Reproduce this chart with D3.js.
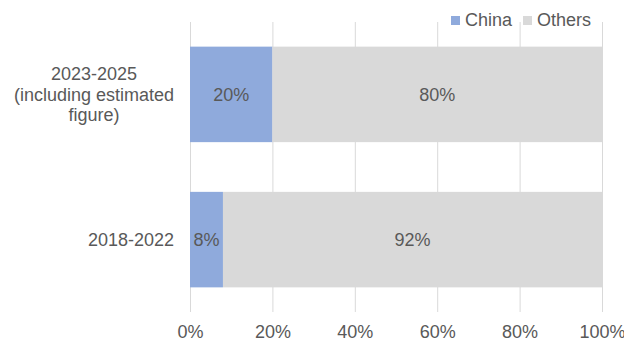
<!DOCTYPE html>
<html><head><meta charset="utf-8">
<script src="https://cdn.jsdelivr.net/npm/d3@7"></script>
<style>body{margin:0;background:#fff}svg{display:block;font-family:"Liberation Sans",Arial,sans-serif}</style>
</head><body><svg id="c" width="624" height="341"></svg>
<script>
const categories = [["2023-2025","(including estimated","figure)"],["2018-2022"]];
const seriesNames = ["China","Others"];
const china = [20, 8];
const others = [80, 92];
const xTicks = [0,20,40,60,80,100];
const colors = ["#8faadc","#d9d9d9"];

const svg = d3.select("#c");
const x = d3.scaleLinear().domain([0,100]).range([190,602]);
const y = d3.scaleBand().domain(d3.range(categories.length)).range([22,312]).paddingInner(0.343).paddingOuter(0.17);
const txt = "#595959";
const fs = 18;

// gridlines
svg.append("g").selectAll("line").data(xTicks).join("line")
  .attr("x1",d=>x(d)+0.5).attr("x2",d=>x(d)+0.5).attr("y1",22).attr("y2",312)
  .attr("stroke","#d9d9d9").attr("stroke-width",1);

// x axis labels
const xa = svg.append("g").attr("transform","translate(0,312)")
  .call(d3.axisBottom(x).tickValues(xTicks).tickFormat(d=>d+"%").tickSize(0).tickPadding(13));
xa.select(".domain").remove();
xa.selectAll("text").attr("font-size",fs).attr("fill",txt).attr("font-family","Liberation Sans, Arial, sans-serif");

const data = categories.map((c,i)=>({i, vals:[china[i], others[i]]}));
const bh = 95.5;
data.forEach(d=>{
  let acc = 0;
  const cy = y(d.i)+y.bandwidth()/2;
  d.vals.forEach((v,k)=>{
    svg.append("rect").attr("x",x(acc)).attr("width",x(acc+v)-x(acc))
      .attr("y",cy-bh/2).attr("height",bh).attr("fill",colors[k]);
    svg.append("text").attr("x",(x(acc)+x(acc+v))/2).attr("y",cy).attr("dy","0.35em")
      .attr("text-anchor","middle").attr("font-size",fs).attr("fill",txt).text(v+"%");
    acc += v;
  });
});

// category labels
categories.forEach((lines,i)=>{
  const cy = y(i)+y.bandwidth()/2;
  const lh = 20.5;
  const g = svg.append("g");
  const t = g.append("text").attr("font-size",fs).attr("fill",txt).attr("text-anchor","middle");
  lines.forEach((l,j)=>{
    t.append("tspan").attr("x",0).attr("y",cy+(j-(lines.length-1)/2)*lh).attr("dy","0.35em").text(l);
  });
  let w = 0;
  t.selectAll("tspan").each(function(){w=Math.max(w,this.getComputedTextLength());});
  g.attr("transform",`translate(${174-w/2},0)`);
});

// legend
const leg = svg.append("g");
const lx = [451, 523];
seriesNames.forEach((n,k)=>{
  leg.append("rect").attr("x",lx[k]).attr("y",16).attr("width",9).attr("height",9).attr("fill",colors[k]);
  leg.append("text").attr("x",lx[k]+14).attr("y",20).attr("dy","0.35em").attr("font-size",fs).attr("fill",txt).text(n);
});
</script></body></html>
